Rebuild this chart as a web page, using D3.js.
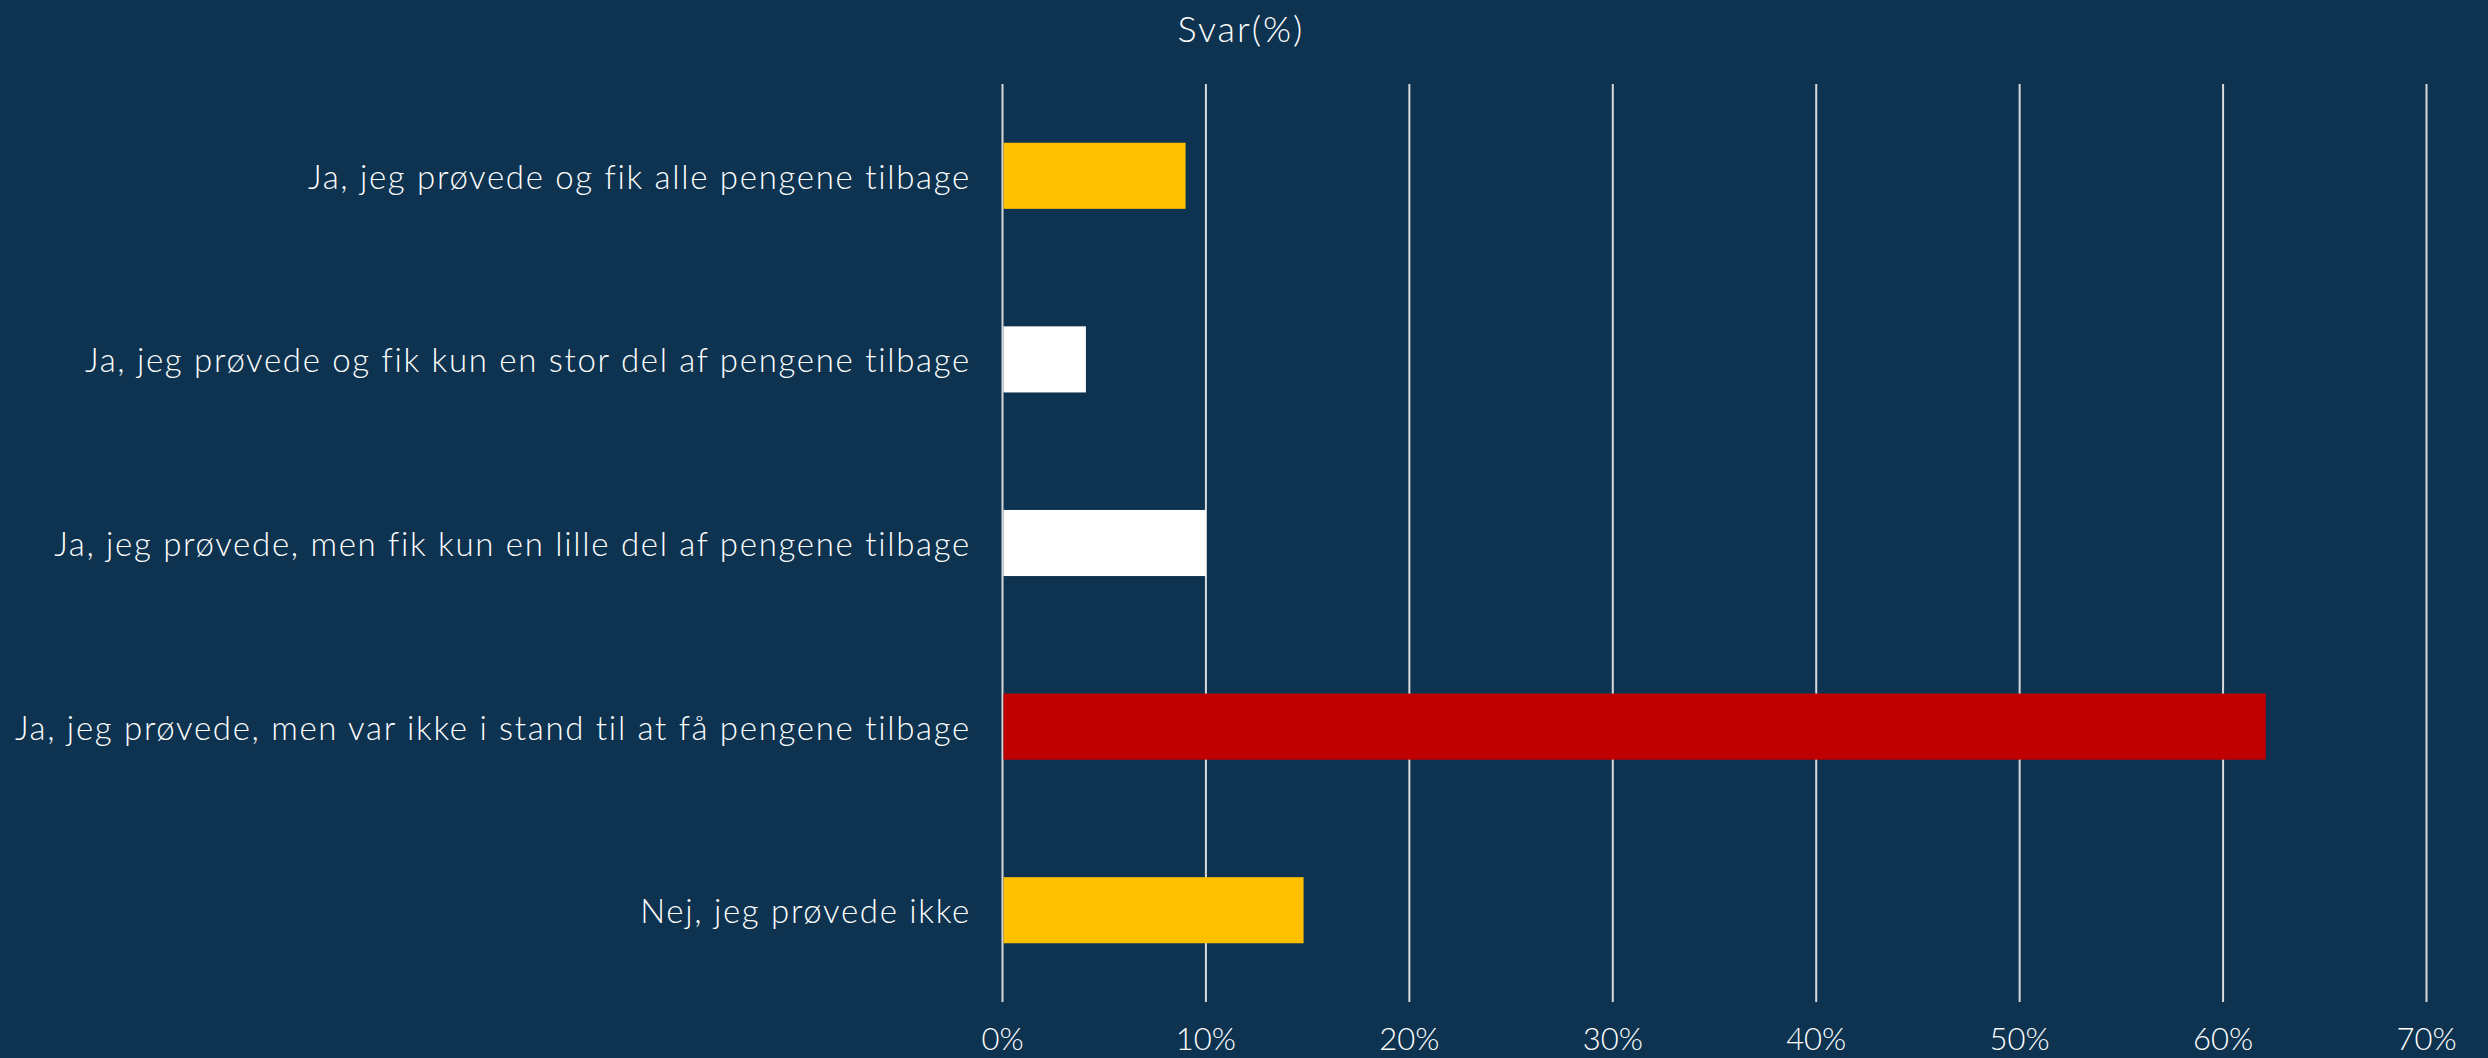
<!DOCTYPE html>
<html><head><meta charset="utf-8">
<script src="https://cdn.jsdelivr.net/npm/d3@7"></script>
<style>
html,body{margin:0;padding:0;background:#0d3350;}
svg{display:block;}
text{font-family:"Century Gothic","Lato","Noto Sans",sans-serif;fill:#ffffff;font-weight:300;}
</style></head><body>
<svg id="chart" width="2488" height="1058"></svg>
<script>
const categories = [
  "Ja, jeg prøvede og fik alle pengene tilbage",
  "Ja, jeg prøvede og fik kun en stor del af pengene tilbage",
  "Ja, jeg prøvede, men fik kun en lille del af pengene tilbage",
  "Ja, jeg prøvede, men var ikke i stand til at få pengene tilbage",
  "Nej, jeg prøvede ikke"
];
const values = [9.0, 4.1, 10.0, 62.1, 14.8];
const barColors = ["#ffc000", "#ffffff", "#ffffff", "#c00000", "#ffc000"];
const tickValues = [0, 10, 20, 30, 40, 50, 60, 70];
const title = "Svar(%)";

const W = 2488, H = 1058;
const svg = d3.select("#chart");
svg.append("rect").attr("width", W).attr("height", H).attr("fill", "#0d3350");

const x = d3.scaleLinear().domain([0, 70]).range([1002.5, 2426.5]);
const y = d3.scaleBand().domain(categories).range([84, 1002]).paddingInner(0.64).paddingOuter(0.32);

// gridlines
svg.append("g").selectAll("line").data(tickValues).join("line")
  .attr("x1", d => x(d)).attr("x2", d => x(d))
  .attr("y1", 84).attr("y2", 1002)
  .attr("stroke", "#d9d9d9").attr("stroke-width", 2);

// bars
svg.append("g").selectAll("rect").data(values).join("rect")
  .attr("x", x(0) + 1)
  .attr("y", (d, i) => y(categories[i]))
  .attr("width", d => x(d) - x(0) - 1)
  .attr("height", y.bandwidth())
  .attr("fill", (d, i) => barColors[i]);

// category labels
svg.append("g").selectAll("text").data(categories).join("text")
  .attr("x", 971)
  .attr("y", d => y(d) + y.bandwidth() / 2)
  .attr("text-anchor", "end")
  .attr("dominant-baseline", "central")
  .attr("font-size", 33)
  .attr("letter-spacing", "1.7px")
  .text(d => d);

// tick labels
svg.append("g").selectAll("text").data(tickValues).join("text")
  .attr("x", d => x(d))
  .attr("y", 1050)
  .attr("text-anchor", "middle")
  .attr("font-size", 31)
  .text(d => d + "%");

// title
svg.append("text").attr("x", 1241).attr("y", 42)
  .attr("text-anchor", "middle").attr("font-size", 36)
  .attr("letter-spacing", "2px")
  .text(title);
</script>
</body></html>
